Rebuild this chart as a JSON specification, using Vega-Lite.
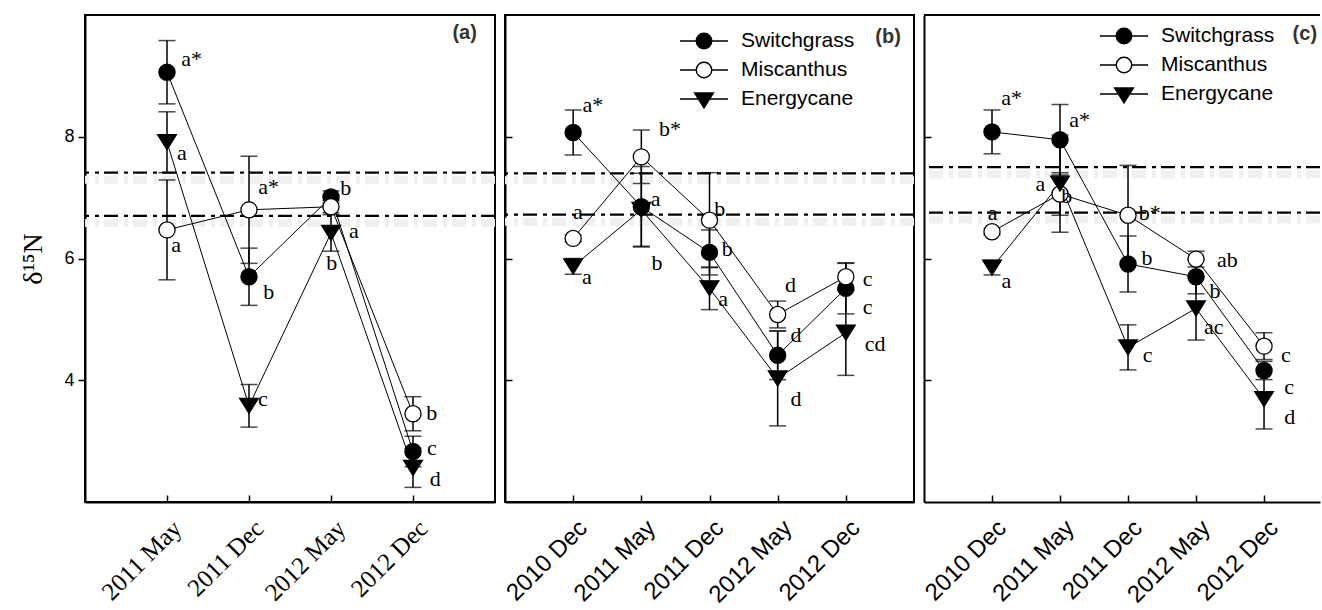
{
  "$schema": "https://vega.github.io/schema/vega-lite/v6.json",
  "padding": {"left": 18, "top": 14, "right": 0, "bottom": 0},
  "spacing": 10,
  "bounds": "flush",
  "config": {
    "view": {"stroke": "black", "strokeWidth": 2},
    "axis": {"grid": false, "domainColor": "black", "domainWidth": 2, "tickColor": "black", "tickWidth": 1.5, "labelColor": "black", "labelFont": "Liberation Sans"},
    "axisX": {"labelAngle": -45, "labelFontSize": 24, "tickSize": -7, "labelPadding": 29, "labelOffset": 10, "labelAlign": "right", "labelBaseline": "middle", "labelOverlap": false},
    "axisY": {"minExtent": 0}
  },
  "datasets": {
    "pts": [
      {"panel": "a", "t": 1, "date": "2011 May", "species": "Switchgrass", "v": 9.06, "se": 0.52},
      {"panel": "a", "t": 2, "date": "2011 Dec", "species": "Switchgrass", "v": 5.7, "se": 0.47},
      {"panel": "a", "t": 3, "date": "2012 May", "species": "Switchgrass", "v": 7.01, "se": 0.1},
      {"panel": "a", "t": 4, "date": "2012 Dec", "species": "Switchgrass", "v": 2.83, "se": 0.25},
      {"panel": "a", "t": 1, "date": "2011 May", "species": "Miscanthus", "v": 6.47, "se": 0.82},
      {"panel": "a", "t": 2, "date": "2011 Dec", "species": "Miscanthus", "v": 6.8, "se": 0.88},
      {"panel": "a", "t": 3, "date": "2012 May", "species": "Miscanthus", "v": 6.85, "se": 0.1},
      {"panel": "a", "t": 4, "date": "2012 Dec", "species": "Miscanthus", "v": 3.45, "se": 0.28},
      {"panel": "a", "t": 1, "date": "2011 May", "species": "Energycane", "v": 7.91, "se": 0.5},
      {"panel": "a", "t": 2, "date": "2011 Dec", "species": "Energycane", "v": 3.58, "se": 0.35},
      {"panel": "a", "t": 3, "date": "2012 May", "species": "Energycane", "v": 6.42, "se": 0.3},
      {"panel": "a", "t": 4, "date": "2012 Dec", "species": "Energycane", "v": 2.56, "se": 0.32},
      {"panel": "b", "t": 1, "date": "2010 Dec", "species": "Switchgrass", "v": 8.07, "se": 0.37},
      {"panel": "b", "t": 2, "date": "2011 May", "species": "Switchgrass", "v": 6.85, "se": 0.66},
      {"panel": "b", "t": 3, "date": "2011 Dec", "species": "Switchgrass", "v": 6.1, "se": 0.37},
      {"panel": "b", "t": 4, "date": "2012 May", "species": "Switchgrass", "v": 4.41, "se": 0.4},
      {"panel": "b", "t": 5, "date": "2012 Dec", "species": "Switchgrass", "v": 5.51, "se": 0.42},
      {"panel": "b", "t": 1, "date": "2010 Dec", "species": "Miscanthus", "v": 6.33, "se": 0.05},
      {"panel": "b", "t": 2, "date": "2011 May", "species": "Miscanthus", "v": 7.67, "se": 0.44},
      {"panel": "b", "t": 3, "date": "2011 Dec", "species": "Miscanthus", "v": 6.63, "se": 0.78},
      {"panel": "b", "t": 4, "date": "2012 May", "species": "Miscanthus", "v": 5.08, "se": 0.22},
      {"panel": "b", "t": 5, "date": "2012 Dec", "species": "Miscanthus", "v": 5.7, "se": 0.22},
      {"panel": "b", "t": 1, "date": "2010 Dec", "species": "Energycane", "v": 5.87, "se": 0.13},
      {"panel": "b", "t": 2, "date": "2011 May", "species": "Energycane", "v": 6.8, "se": 0.6},
      {"panel": "b", "t": 3, "date": "2011 Dec", "species": "Energycane", "v": 5.51, "se": 0.35},
      {"panel": "b", "t": 4, "date": "2012 May", "species": "Energycane", "v": 4.03, "se": 0.78},
      {"panel": "b", "t": 5, "date": "2012 Dec", "species": "Energycane", "v": 4.78, "se": 0.7},
      {"panel": "c", "t": 1, "date": "2010 Dec", "species": "Switchgrass", "v": 8.08, "se": 0.36},
      {"panel": "c", "t": 2, "date": "2011 May", "species": "Switchgrass", "v": 7.95, "se": 0.58},
      {"panel": "c", "t": 3, "date": "2011 Dec", "species": "Switchgrass", "v": 5.91, "se": 0.46},
      {"panel": "c", "t": 4, "date": "2012 May", "species": "Switchgrass", "v": 5.7, "se": 0.28},
      {"panel": "c", "t": 5, "date": "2012 Dec", "species": "Switchgrass", "v": 4.16, "se": 0.15},
      {"panel": "c", "t": 1, "date": "2010 Dec", "species": "Miscanthus", "v": 6.44, "se": 0.05},
      {"panel": "c", "t": 2, "date": "2011 May", "species": "Miscanthus", "v": 7.06, "se": 0.35},
      {"panel": "c", "t": 3, "date": "2011 Dec", "species": "Miscanthus", "v": 6.71, "se": 0.82},
      {"panel": "c", "t": 4, "date": "2012 May", "species": "Miscanthus", "v": 5.99, "se": 0.13},
      {"panel": "c", "t": 5, "date": "2012 Dec", "species": "Miscanthus", "v": 4.56, "se": 0.22},
      {"panel": "c", "t": 1, "date": "2010 Dec", "species": "Energycane", "v": 5.85, "se": 0.12},
      {"panel": "c", "t": 2, "date": "2011 May", "species": "Energycane", "v": 7.23, "se": 0.8},
      {"panel": "c", "t": 3, "date": "2011 Dec", "species": "Energycane", "v": 4.54, "se": 0.37},
      {"panel": "c", "t": 4, "date": "2012 May", "species": "Energycane", "v": 5.18, "se": 0.52},
      {"panel": "c", "t": 5, "date": "2012 Dec", "species": "Energycane", "v": 3.69, "se": 0.49}
    ],
    "labs": [
      {"panel": "a", "t": 1.3, "v": 9.28, "text": "a*"},
      {"panel": "a", "t": 1.18, "v": 7.74, "text": "a"},
      {"panel": "a", "t": 1.11, "v": 6.22, "text": "a"},
      {"panel": "a", "t": 2.24, "v": 7.18, "text": "a*"},
      {"panel": "a", "t": 2.24, "v": 5.45, "text": "b"},
      {"panel": "a", "t": 3.18, "v": 7.16, "text": "b"},
      {"panel": "a", "t": 3.28, "v": 6.45, "text": "a"},
      {"panel": "a", "t": 3.01, "v": 5.93, "text": "b"},
      {"panel": "a", "t": 2.17, "v": 3.69, "text": "c"},
      {"panel": "a", "t": 4.23, "v": 3.46, "text": "b"},
      {"panel": "a", "t": 4.23, "v": 2.88, "text": "c"},
      {"panel": "a", "t": 4.27, "v": 2.375, "text": "d"},
      {"panel": "b", "t": 1.29, "v": 8.52, "text": "a*"},
      {"panel": "b", "t": 2.42, "v": 8.13, "text": "b*"},
      {"panel": "b", "t": 1.07, "v": 6.77, "text": "a"},
      {"panel": "b", "t": 2.21, "v": 6.97, "text": "a"},
      {"panel": "b", "t": 2.23, "v": 5.92, "text": "b"},
      {"panel": "b", "t": 1.2, "v": 5.69, "text": "a"},
      {"panel": "b", "t": 3.15, "v": 6.82, "text": "b"},
      {"panel": "b", "t": 3.26, "v": 6.16, "text": "b"},
      {"panel": "b", "t": 3.2, "v": 5.34, "text": "a"},
      {"panel": "b", "t": 4.19, "v": 5.57, "text": "d"},
      {"panel": "b", "t": 5.32, "v": 5.66, "text": "c"},
      {"panel": "b", "t": 5.32, "v": 5.21, "text": "c"},
      {"panel": "b", "t": 4.27, "v": 4.75, "text": "d"},
      {"panel": "b", "t": 4.27, "v": 3.7, "text": "d"},
      {"panel": "b", "t": 5.43, "v": 4.59, "text": "cd"},
      {"panel": "c", "t": 1.29, "v": 8.64, "text": "a*"},
      {"panel": "c", "t": 2.29, "v": 8.28, "text": "a*"},
      {"panel": "c", "t": 1.71, "v": 7.23, "text": "a"},
      {"panel": "c", "t": 2.1, "v": 7.03, "text": "b"},
      {"panel": "c", "t": 1.01, "v": 6.75, "text": "a"},
      {"panel": "c", "t": 1.21, "v": 5.63, "text": "a"},
      {"panel": "c", "t": 3.32, "v": 6.75, "text": "b*"},
      {"panel": "c", "t": 3.28, "v": 6.01, "text": "b"},
      {"panel": "c", "t": 4.46, "v": 5.98, "text": "ab"},
      {"panel": "c", "t": 4.28, "v": 5.47, "text": "b"},
      {"panel": "c", "t": 3.29, "v": 4.41, "text": "c"},
      {"panel": "c", "t": 4.26, "v": 4.875, "text": "ac"},
      {"panel": "c", "t": 5.32, "v": 4.42, "text": "c"},
      {"panel": "c", "t": 5.37, "v": 3.89, "text": "c"},
      {"panel": "c", "t": 5.38, "v": 3.39, "text": "d"}
    ],
    "refs": [
      {"panel": "a", "v": 7.41}, {"panel": "a", "v": 6.7},
      {"panel": "b", "v": 7.4}, {"panel": "b", "v": 6.72},
      {"panel": "c", "v": 7.5}, {"panel": "c", "v": 6.755}
    ],
    "tags": [
      {"panel": "a", "t": 4.63, "v": 9.71, "text": "(a)"},
      {"panel": "b", "t": 5.62, "v": 9.64, "text": "(b)"},
      {"panel": "c", "t": 5.6, "v": 9.69, "text": "(c)"}
    ]
  },
  "hconcat": [
    {
      "width": 410, "height": 487,
      "layer": [
        {"data": {"name": "refs"}, "transform": [{"filter": "datum.panel == 'a'"}],
         "mark": {"type": "rule", "stroke": "#f0f0f0", "strokeWidth": 8, "yOffset": 7, "strokeDash": [14, 5, 4, 6]},
         "encoding": {"y": {"field": "v", "type": "quantitative", "scale": {"domain": [2, 10], "nice": false, "zero": false}, "axis": {"values": [4, 6, 8], "title": "δ¹⁵N", "titleFont": "Liberation Serif", "titleFontSize": 28, "titleFontWeight": "normal", "titleColor": "black", "tickSize": 7, "labelFontSize": 18, "labelPadding": 4, "titlePadding": 16}}}},
        {"data": {"name": "refs"}, "transform": [{"filter": "datum.panel == 'a'"}],
         "mark": {"type": "rule", "stroke": "black", "strokeWidth": 2.2, "strokeDash": [14, 5, 4, 6]},
         "encoding": {"y": {"field": "v", "type": "quantitative", "scale": {"domain": [2, 10], "nice": false, "zero": false}, "axis": {"values": [4, 6, 8], "title": "δ¹⁵N", "titleFont": "Liberation Serif", "titleFontSize": 28, "titleFontWeight": "normal", "titleColor": "black", "tickSize": 7, "labelFontSize": 18, "labelPadding": 4, "titlePadding": 16}}}},
        {"data": {"name": "pts"}, "transform": [{"filter": "datum.panel == 'a'"}],
         "mark": {"type": "line", "stroke": "black", "strokeWidth": 1},
         "encoding": {
           "x": {"field": "t", "type": "quantitative", "scale": {"domain": [0, 5], "nice": false, "zero": false}, "axis": {"values": [1, 2, 3, 4], "labelExpr": "['','2011 May','2011 Dec','2012 May','2012 Dec'][datum.value]", "labelFont": "Liberation Serif", "labelFontSize": 25, "title": null}},
           "y": {"field": "v", "type": "quantitative", "scale": {"domain": [2, 10], "nice": false, "zero": false}, "axis": {"values": [4, 6, 8], "title": "δ¹⁵N", "titleFont": "Liberation Serif", "titleFontSize": 28, "titleFontWeight": "normal", "titleColor": "black", "tickSize": 7, "labelFontSize": 18, "labelPadding": 4, "titlePadding": 16}},
           "detail": {"field": "species", "type": "nominal"},
           "order": {"field": "t", "type": "quantitative"}}},
        {"data": {"name": "pts"}, "transform": [{"filter": "datum.panel == 'a'"}],
         "mark": {"type": "errorbar", "ticks": {"size": 17}, "thickness": 1.5, "color": "black"},
         "encoding": {
           "x": {"field": "t", "type": "quantitative", "scale": {"domain": [0, 5], "nice": false, "zero": false}, "axis": {"values": [1, 2, 3, 4], "labelExpr": "['','2011 May','2011 Dec','2012 May','2012 Dec'][datum.value]", "labelFont": "Liberation Serif", "labelFontSize": 25, "title": null}},
           "y": {"field": "v", "type": "quantitative", "scale": {"domain": [2, 10], "nice": false, "zero": false}, "axis": {"values": [4, 6, 8], "title": "δ¹⁵N", "titleFont": "Liberation Serif", "titleFontSize": 28, "titleFontWeight": "normal", "titleColor": "black", "tickSize": 7, "labelFontSize": 18, "labelPadding": 4, "titlePadding": 16}},
           "yError": {"field": "se"}}},
        {"data": {"name": "pts"}, "transform": [{"filter": "datum.panel == 'a'"}],
         "mark": {"type": "point", "filled": true, "stroke": "black", "strokeWidth": 1.3, "size": 260, "opacity": 1},
         "encoding": {
           "x": {"field": "t", "type": "quantitative", "scale": {"domain": [0, 5], "nice": false, "zero": false}, "axis": {"values": [1, 2, 3, 4], "labelExpr": "['','2011 May','2011 Dec','2012 May','2012 Dec'][datum.value]", "labelFont": "Liberation Serif", "labelFontSize": 25, "title": null}},
           "y": {"field": "v", "type": "quantitative", "scale": {"domain": [2, 10], "nice": false, "zero": false}, "axis": {"values": [4, 6, 8], "title": "δ¹⁵N", "titleFont": "Liberation Serif", "titleFontSize": 28, "titleFontWeight": "normal", "titleColor": "black", "tickSize": 7, "labelFontSize": 18, "labelPadding": 4, "titlePadding": 16}},
           "shape": {"field": "species", "type": "nominal", "scale": {"domain": ["Switchgrass", "Miscanthus", "Energycane"], "range": ["circle", "circle", "M-1.16,-0.93L1.16,-0.93L0,0.93Z"]}, "legend": null},
           "fill": {"field": "species", "type": "nominal", "scale": {"domain": ["Switchgrass", "Miscanthus", "Energycane"], "range": ["black", "white", "black"]}, "legend": null}}},
        {"data": {"name": "labs"}, "transform": [{"filter": "datum.panel == 'a'"}],
         "mark": {"type": "text", "font": "Liberation Serif", "fontSize": 22, "color": "black", "align": "center", "baseline": "middle"},
         "encoding": {
           "x": {"field": "t", "type": "quantitative", "scale": {"domain": [0, 5], "nice": false, "zero": false}, "axis": {"values": [1, 2, 3, 4], "labelExpr": "['','2011 May','2011 Dec','2012 May','2012 Dec'][datum.value]", "labelFont": "Liberation Serif", "labelFontSize": 25, "title": null}},
           "y": {"field": "v", "type": "quantitative", "scale": {"domain": [2, 10], "nice": false, "zero": false}, "axis": {"values": [4, 6, 8], "title": "δ¹⁵N", "titleFont": "Liberation Serif", "titleFontSize": 28, "titleFontWeight": "normal", "titleColor": "black", "tickSize": 7, "labelFontSize": 18, "labelPadding": 4, "titlePadding": 16}},
           "text": {"field": "text"}}},
        {"data": {"name": "tags"}, "transform": [{"filter": "datum.panel == 'a'"}],
         "mark": {"type": "text", "font": "Liberation Sans", "fontSize": 20, "fontWeight": "bold", "color": "#333333", "align": "center", "baseline": "middle"},
         "encoding": {
           "x": {"field": "t", "type": "quantitative", "scale": {"domain": [0, 5], "nice": false, "zero": false}, "axis": {"values": [1, 2, 3, 4], "labelExpr": "['','2011 May','2011 Dec','2012 May','2012 Dec'][datum.value]", "labelFont": "Liberation Serif", "labelFontSize": 25, "title": null}},
           "y": {"field": "v", "type": "quantitative", "scale": {"domain": [2, 10], "nice": false, "zero": false}, "axis": {"values": [4, 6, 8], "title": "δ¹⁵N", "titleFont": "Liberation Serif", "titleFontSize": 28, "titleFontWeight": "normal", "titleColor": "black", "tickSize": 7, "labelFontSize": 18, "labelPadding": 4, "titlePadding": 16}},
           "text": {"field": "text"}}}
      ],
      "resolve": {"scale": {"shape": "independent", "fill": "independent"}}
    },
    {
      "width": 409, "height": 487,
      "layer": [
        {"data": {"name": "refs"}, "transform": [{"filter": "datum.panel == 'b'"}],
         "mark": {"type": "rule", "stroke": "#f0f0f0", "strokeWidth": 8, "yOffset": 7, "strokeDash": [14, 5, 4, 6]},
         "encoding": {"y": {"field": "v", "type": "quantitative", "scale": {"domain": [2, 10], "nice": false, "zero": false}, "axis": {"values": [4, 6, 8], "labels": false, "title": null, "tickSize": -7, "minExtent": 0}}}},
        {"data": {"name": "refs"}, "transform": [{"filter": "datum.panel == 'b'"}],
         "mark": {"type": "rule", "stroke": "black", "strokeWidth": 2.2, "strokeDash": [14, 5, 4, 6]},
         "encoding": {"y": {"field": "v", "type": "quantitative", "scale": {"domain": [2, 10], "nice": false, "zero": false}, "axis": {"values": [4, 6, 8], "labels": false, "title": null, "tickSize": -7, "minExtent": 0}}}},
        {"data": {"name": "pts"}, "transform": [{"filter": "datum.panel == 'b'"}],
         "mark": {"type": "line", "stroke": "black", "strokeWidth": 1},
         "encoding": {
           "x": {"field": "t", "type": "quantitative", "scale": {"domain": [0, 6], "nice": false, "zero": false}, "axis": {"values": [1, 2, 3, 4, 5], "labelExpr": "['','2010 Dec','2011 May','2011 Dec','2012 May','2012 Dec'][datum.value]", "title": null}},
           "y": {"field": "v", "type": "quantitative", "scale": {"domain": [2, 10], "nice": false, "zero": false}, "axis": {"values": [4, 6, 8], "labels": false, "title": null, "tickSize": -7, "minExtent": 0}},
           "detail": {"field": "species", "type": "nominal"},
           "order": {"field": "t", "type": "quantitative"}}},
        {"data": {"name": "pts"}, "transform": [{"filter": "datum.panel == 'b'"}],
         "mark": {"type": "errorbar", "ticks": {"size": 17}, "thickness": 1.5, "color": "black"},
         "encoding": {
           "x": {"field": "t", "type": "quantitative", "scale": {"domain": [0, 6], "nice": false, "zero": false}, "axis": {"values": [1, 2, 3, 4, 5], "labelExpr": "['','2010 Dec','2011 May','2011 Dec','2012 May','2012 Dec'][datum.value]", "title": null}},
           "y": {"field": "v", "type": "quantitative", "scale": {"domain": [2, 10], "nice": false, "zero": false}, "axis": {"values": [4, 6, 8], "labels": false, "title": null, "tickSize": -7, "minExtent": 0}},
           "yError": {"field": "se"}}},
        {"data": {"name": "pts"}, "transform": [{"filter": "datum.panel == 'b'"}],
         "mark": {"type": "point", "filled": true, "stroke": "black", "strokeWidth": 1.3, "size": 260, "opacity": 1},
         "encoding": {
           "x": {"field": "t", "type": "quantitative", "scale": {"domain": [0, 6], "nice": false, "zero": false}, "axis": {"values": [1, 2, 3, 4, 5], "labelExpr": "['','2010 Dec','2011 May','2011 Dec','2012 May','2012 Dec'][datum.value]", "title": null}},
           "y": {"field": "v", "type": "quantitative", "scale": {"domain": [2, 10], "nice": false, "zero": false}, "axis": {"values": [4, 6, 8], "labels": false, "title": null, "tickSize": -7, "minExtent": 0}},
           "shape": {"field": "species", "type": "nominal", "scale": {"domain": ["Switchgrass", "Miscanthus", "Energycane"], "range": ["circle", "circle", "M-1.16,-0.93L1.16,-0.93L0,0.93Z"]}, "legend": null},
           "fill": {"field": "species", "type": "nominal", "scale": {"domain": ["Switchgrass", "Miscanthus", "Energycane"], "range": ["black", "white", "black"]}, "legend": null}}},
        {"data": {"name": "pts"}, "transform": [{"filter": "datum.panel == 'b'"}],
         "mark": {"type": "point", "filled": true, "fill": "black", "stroke": "black", "size": 400, "opacity": 0},
         "encoding": {
           "x": {"field": "t", "type": "quantitative", "scale": {"domain": [0, 6], "nice": false, "zero": false}, "axis": {"values": [1, 2, 3, 4, 5], "labelExpr": "['','2010 Dec','2011 May','2011 Dec','2012 May','2012 Dec'][datum.value]", "title": null}},
           "y": {"field": "v", "type": "quantitative", "scale": {"domain": [2, 10], "nice": false, "zero": false}, "axis": {"values": [4, 6, 8], "labels": false, "title": null, "tickSize": -7, "minExtent": 0}},
           "shape": {"field": "species", "type": "nominal", "scale": {"domain": ["Switchgrass", "Miscanthus", "Energycane"], "range": ["M-2.4,0H-0.78M0.78,0H2.4M0.78,0A0.78,0.78,0,1,1,-0.78,0A0.78,0.78,0,1,1,0.78,0Z", "M-2.4,0H-0.78M0.78,0H2.4M0.78,0A0.78,0.78,0,1,1,-0.78,0A0.78,0.78,0,1,1,0.78,0ZM0.77,0A0.77,0.77,0,1,0,-0.77,0A0.77,0.77,0,1,0,0.77,0Z", "M-2.4,0H2.4M-0.95,-0.6L0.95,-0.6L0,0.9Z"]},
             "legend": {"title": null, "orient": "none", "legendX": 188, "legendY": 15, "padding": 0, "labelFont": "Liberation Sans", "labelFontSize": 21, "labelColor": "black", "labelOffset": 26, "symbolSize": 400, "symbolStrokeWidth": 1.3, "rowPadding": 7}}}},
        {"data": {"name": "labs"}, "transform": [{"filter": "datum.panel == 'b'"}],
         "mark": {"type": "text", "font": "Liberation Serif", "fontSize": 22, "color": "black", "align": "center", "baseline": "middle"},
         "encoding": {
           "x": {"field": "t", "type": "quantitative", "scale": {"domain": [0, 6], "nice": false, "zero": false}, "axis": {"values": [1, 2, 3, 4, 5], "labelExpr": "['','2010 Dec','2011 May','2011 Dec','2012 May','2012 Dec'][datum.value]", "title": null}},
           "y": {"field": "v", "type": "quantitative", "scale": {"domain": [2, 10], "nice": false, "zero": false}, "axis": {"values": [4, 6, 8], "labels": false, "title": null, "tickSize": -7, "minExtent": 0}},
           "text": {"field": "text"}}},
        {"data": {"name": "tags"}, "transform": [{"filter": "datum.panel == 'b'"}],
         "mark": {"type": "text", "font": "Liberation Sans", "fontSize": 20, "fontWeight": "bold", "color": "#333333", "align": "center", "baseline": "middle"},
         "encoding": {
           "x": {"field": "t", "type": "quantitative", "scale": {"domain": [0, 6], "nice": false, "zero": false}, "axis": {"values": [1, 2, 3, 4, 5], "labelExpr": "['','2010 Dec','2011 May','2011 Dec','2012 May','2012 Dec'][datum.value]", "title": null}},
           "y": {"field": "v", "type": "quantitative", "scale": {"domain": [2, 10], "nice": false, "zero": false}, "axis": {"values": [4, 6, 8], "labels": false, "title": null, "tickSize": -7, "minExtent": 0}},
           "text": {"field": "text"}}}
      ],
      "resolve": {"scale": {"shape": "independent", "fill": "independent"}}
    },
    {
      "width": 396, "height": 487,
      "view": {"stroke": null},
      "layer": [
        {"data": {"name": "refs"}, "transform": [{"filter": "datum.panel == 'c'"}],
         "mark": {"type": "rule", "stroke": "#f0f0f0", "strokeWidth": 8, "yOffset": 7, "strokeDash": [14, 5, 4, 6]},
         "encoding": {"y": {"field": "v", "type": "quantitative", "scale": {"domain": [2, 10], "nice": false, "zero": false}, "axis": {"values": [4, 6, 8], "labels": false, "title": null, "tickSize": -7, "minExtent": 0}}}},
        {"data": {"name": "refs"}, "transform": [{"filter": "datum.panel == 'c'"}],
         "mark": {"type": "rule", "stroke": "black", "strokeWidth": 2.2, "strokeDash": [14, 5, 4, 6]},
         "encoding": {"y": {"field": "v", "type": "quantitative", "scale": {"domain": [2, 10], "nice": false, "zero": false}, "axis": {"values": [4, 6, 8], "labels": false, "title": null, "tickSize": -7, "minExtent": 0}}}},
        {"data": {"name": "tags"}, "transform": [{"filter": "datum.panel == 'c'"}],
         "mark": {"type": "rule", "stroke": "black", "strokeWidth": 2},
         "encoding": {"y": {"datum": 10, "type": "quantitative", "scale": {"domain": [2, 10], "nice": false, "zero": false}, "axis": {"values": [4, 6, 8], "labels": false, "title": null, "tickSize": -7, "minExtent": 0}}}},
        {"data": {"name": "pts"}, "transform": [{"filter": "datum.panel == 'c'"}],
         "mark": {"type": "line", "stroke": "black", "strokeWidth": 1},
         "encoding": {
           "x": {"field": "t", "type": "quantitative", "scale": {"domain": [0, 5.823], "nice": false, "zero": false}, "axis": {"values": [1, 2, 3, 4, 5], "labelExpr": "['','2010 Dec','2011 May','2011 Dec','2012 May','2012 Dec'][datum.value]", "title": null}},
           "y": {"field": "v", "type": "quantitative", "scale": {"domain": [2, 10], "nice": false, "zero": false}, "axis": {"values": [4, 6, 8], "labels": false, "title": null, "tickSize": -7, "minExtent": 0}},
           "detail": {"field": "species", "type": "nominal"},
           "order": {"field": "t", "type": "quantitative"}}},
        {"data": {"name": "pts"}, "transform": [{"filter": "datum.panel == 'c'"}],
         "mark": {"type": "errorbar", "ticks": {"size": 17}, "thickness": 1.5, "color": "black"},
         "encoding": {
           "x": {"field": "t", "type": "quantitative", "scale": {"domain": [0, 5.823], "nice": false, "zero": false}, "axis": {"values": [1, 2, 3, 4, 5], "labelExpr": "['','2010 Dec','2011 May','2011 Dec','2012 May','2012 Dec'][datum.value]", "title": null}},
           "y": {"field": "v", "type": "quantitative", "scale": {"domain": [2, 10], "nice": false, "zero": false}, "axis": {"values": [4, 6, 8], "labels": false, "title": null, "tickSize": -7, "minExtent": 0}},
           "yError": {"field": "se"}}},
        {"data": {"name": "pts"}, "transform": [{"filter": "datum.panel == 'c'"}],
         "mark": {"type": "point", "filled": true, "stroke": "black", "strokeWidth": 1.3, "size": 260, "opacity": 1},
         "encoding": {
           "x": {"field": "t", "type": "quantitative", "scale": {"domain": [0, 5.823], "nice": false, "zero": false}, "axis": {"values": [1, 2, 3, 4, 5], "labelExpr": "['','2010 Dec','2011 May','2011 Dec','2012 May','2012 Dec'][datum.value]", "title": null}},
           "y": {"field": "v", "type": "quantitative", "scale": {"domain": [2, 10], "nice": false, "zero": false}, "axis": {"values": [4, 6, 8], "labels": false, "title": null, "tickSize": -7, "minExtent": 0}},
           "shape": {"field": "species", "type": "nominal", "scale": {"domain": ["Switchgrass", "Miscanthus", "Energycane"], "range": ["circle", "circle", "M-1.16,-0.93L1.16,-0.93L0,0.93Z"]}, "legend": null},
           "fill": {"field": "species", "type": "nominal", "scale": {"domain": ["Switchgrass", "Miscanthus", "Energycane"], "range": ["black", "white", "black"]}, "legend": null}}},
        {"data": {"name": "pts"}, "transform": [{"filter": "datum.panel == 'c'"}],
         "mark": {"type": "point", "filled": true, "fill": "black", "stroke": "black", "size": 400, "opacity": 0},
         "encoding": {
           "x": {"field": "t", "type": "quantitative", "scale": {"domain": [0, 5.823], "nice": false, "zero": false}, "axis": {"values": [1, 2, 3, 4, 5], "labelExpr": "['','2010 Dec','2011 May','2011 Dec','2012 May','2012 Dec'][datum.value]", "title": null}},
           "y": {"field": "v", "type": "quantitative", "scale": {"domain": [2, 10], "nice": false, "zero": false}, "axis": {"values": [4, 6, 8], "labels": false, "title": null, "tickSize": -7, "minExtent": 0}},
           "shape": {"field": "species", "type": "nominal", "scale": {"domain": ["Switchgrass", "Miscanthus", "Energycane"], "range": ["M-2.4,0H-0.78M0.78,0H2.4M0.78,0A0.78,0.78,0,1,1,-0.78,0A0.78,0.78,0,1,1,0.78,0Z", "M-2.4,0H-0.78M0.78,0H2.4M0.78,0A0.78,0.78,0,1,1,-0.78,0A0.78,0.78,0,1,1,0.78,0ZM0.77,0A0.77,0.77,0,1,0,-0.77,0A0.77,0.77,0,1,0,0.77,0Z", "M-2.4,0H2.4M-0.95,-0.6L0.95,-0.6L0,0.9Z"]},
             "legend": {"title": null, "orient": "none", "legendX": 189, "legendY": 10, "padding": 0, "labelFont": "Liberation Sans", "labelFontSize": 21, "labelColor": "black", "labelOffset": 26, "symbolSize": 400, "symbolStrokeWidth": 1.3, "rowPadding": 7}}}},
        {"data": {"name": "labs"}, "transform": [{"filter": "datum.panel == 'c'"}],
         "mark": {"type": "text", "font": "Liberation Serif", "fontSize": 22, "color": "black", "align": "center", "baseline": "middle"},
         "encoding": {
           "x": {"field": "t", "type": "quantitative", "scale": {"domain": [0, 5.823], "nice": false, "zero": false}, "axis": {"values": [1, 2, 3, 4, 5], "labelExpr": "['','2010 Dec','2011 May','2011 Dec','2012 May','2012 Dec'][datum.value]", "title": null}},
           "y": {"field": "v", "type": "quantitative", "scale": {"domain": [2, 10], "nice": false, "zero": false}, "axis": {"values": [4, 6, 8], "labels": false, "title": null, "tickSize": -7, "minExtent": 0}},
           "text": {"field": "text"}}},
        {"data": {"name": "tags"}, "transform": [{"filter": "datum.panel == 'c'"}],
         "mark": {"type": "text", "font": "Liberation Sans", "fontSize": 20, "fontWeight": "bold", "color": "#333333", "align": "center", "baseline": "middle"},
         "encoding": {
           "x": {"field": "t", "type": "quantitative", "scale": {"domain": [0, 5.823], "nice": false, "zero": false}, "axis": {"values": [1, 2, 3, 4, 5], "labelExpr": "['','2010 Dec','2011 May','2011 Dec','2012 May','2012 Dec'][datum.value]", "title": null}},
           "y": {"field": "v", "type": "quantitative", "scale": {"domain": [2, 10], "nice": false, "zero": false}, "axis": {"values": [4, 6, 8], "labels": false, "title": null, "tickSize": -7, "minExtent": 0}},
           "text": {"field": "text"}}}
      ],
      "resolve": {"scale": {"shape": "independent", "fill": "independent"}}
    }
  ],
  "resolve": {"scale": {"shape": "independent", "fill": "independent"}}
}
